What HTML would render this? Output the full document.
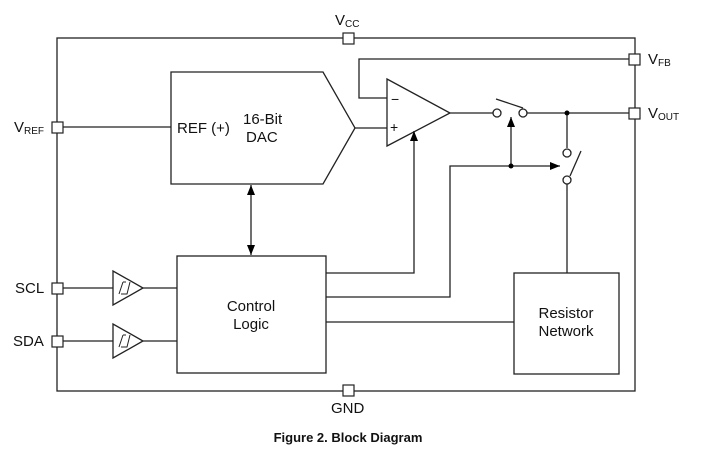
<!DOCTYPE html>
<html><head><meta charset="utf-8"><style>
html,body{margin:0;padding:0;background:#fff;}
svg{display:block;font-family:"Liberation Sans",Arial,sans-serif;}
</style></head><body>
<svg width="704" height="476" viewBox="0 0 704 476" xmlns="http://www.w3.org/2000/svg">
<defs>
<marker id="ar" markerWidth="10" markerHeight="8" refX="10" refY="4" orient="auto-start-reverse" markerUnits="userSpaceOnUse">
<path d="M0,0 L10,4 L0,8 z" fill="#000"/></marker>
</defs>
<g fill="none" stroke="#222" stroke-width="1.3">
<rect x="57" y="38" width="578" height="353"/>
<polygon points="171,72 323,72 355,128 323,184 171,184" fill="#fff"/>
<line x1="63" y1="127" x2="171" y2="127"/>
<polygon points="387,79 387,146 450,113" fill="#fff"/>
<line x1="355" y1="128" x2="387" y2="128"/>
<polyline points="629,59 359,59 359,98 387,98"/>
<line x1="450" y1="113" x2="493" y2="113"/>
<circle cx="497" cy="113" r="4" fill="#fff"/>
<circle cx="523" cy="113" r="4" fill="#fff"/>
<line x1="496" y1="99" x2="523" y2="108"/>
<line x1="527" y1="113" x2="629" y2="113"/>
<line x1="567" y1="113" x2="567" y2="148"/>
<circle cx="567" cy="153" r="4" fill="#fff"/>
<circle cx="567" cy="180" r="4" fill="#fff"/>
<line x1="570" y1="176" x2="581" y2="151"/>
<line x1="567" y1="184" x2="567" y2="273"/>
<rect x="514" y="273" width="105" height="101"/>
<rect x="177" y="256" width="149" height="117"/>
<polyline points="326,273 414,273 414,131" marker-end="url(#ar)"/>
<polyline points="326,297 450,297 450,166 560,166" marker-end="url(#ar)"/>
<line x1="511" y1="166" x2="511" y2="117" marker-end="url(#ar)"/>
<line x1="326" y1="322" x2="514" y2="322"/>
<line x1="251" y1="185" x2="251" y2="255" marker-start="url(#ar)" marker-end="url(#ar)"/>
<line x1="63" y1="288" x2="113" y2="288"/>
<polygon points="113,271 113,305 143,288" fill="#fff"/>
<line x1="143" y1="288" x2="177" y2="288"/>
<path d="M119,294 L123,282 M121,294 L127,294 L130,282 M123,282 L126,282" stroke-width="1"/>
<line x1="63" y1="341" x2="113" y2="341"/>
<polygon points="113,324 113,358 143,341" fill="#fff"/>
<line x1="143" y1="341" x2="177" y2="341"/>
<path d="M119,347 L123,335 M121,347 L127,347 L130,335 M123,335 L126,335" stroke-width="1"/>
</g>
<g fill="#000">
<circle cx="567" cy="113" r="2.5"/>
<circle cx="511" cy="166" r="2.5"/>
</g>
<g fill="#fff" stroke="#222" stroke-width="1.2">
<rect x="343" y="33" width="11" height="11"/>
<rect x="343" y="385" width="11" height="11"/>
<rect x="629" y="54" width="11" height="11"/>
<rect x="629" y="108" width="11" height="11"/>
<rect x="52" y="122" width="11" height="11"/>
<rect x="52" y="283" width="11" height="11"/>
<rect x="52" y="336" width="11" height="11"/>
</g>
<g fill="#111" font-size="15">
<text x="335" y="25">V<tspan font-size="10" dy="2">CC</tspan></text>
<text x="331" y="413">GND</text>
<text x="648" y="64">V<tspan font-size="10" dy="2">FB</tspan></text>
<text x="648" y="118">V<tspan font-size="10" dy="2">OUT</tspan></text>
<text x="14" y="132">V<tspan font-size="10" dy="2">REF</tspan></text>
<text x="15" y="293">SCL</text>
<text x="13" y="346">SDA</text>
<text x="177" y="133">REF (+)</text>
<text x="243" y="124">16-Bit</text>
<text x="246" y="142">DAC</text>
<text x="251" y="311" text-anchor="middle">Control</text>
<text x="251" y="329" text-anchor="middle">Logic</text>
<text x="566" y="318" text-anchor="middle">Resistor</text>
<text x="566" y="336" text-anchor="middle">Network</text>
<text x="390" y="132" font-size="14">+</text>
<text x="391" y="104" font-size="14">−</text>
<text x="348" y="442" text-anchor="middle" font-weight="bold" font-size="13">Figure 2. Block Diagram</text>
</g>
</svg>
</body></html>
